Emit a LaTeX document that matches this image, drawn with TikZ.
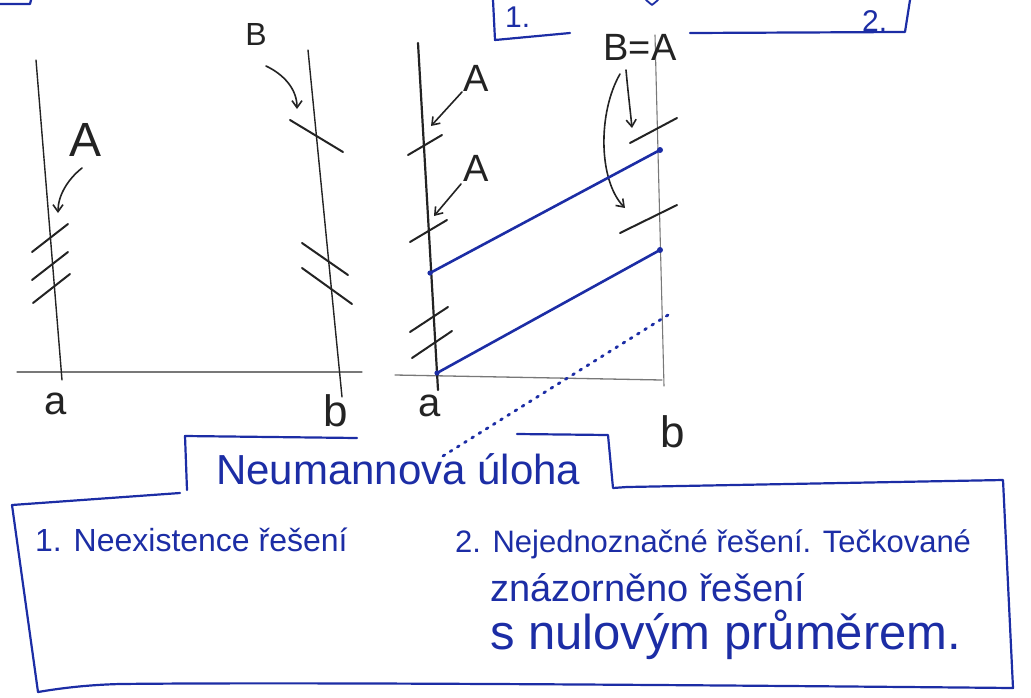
\documentclass[tikz,border=0pt]{standalone}
\usepackage{fontspec}
\setmainfont{Liberation Sans}
\usetikzlibrary{arrows.meta}
\definecolor{ink}{RGB}{35,35,35}
\definecolor{pen}{RGB}{28,45,165}
\definecolor{axisgray}{RGB}{120,120,120}
\begin{document}
\begin{tikzpicture}[x=1pt,y=-1pt,
  axisline/.style={draw=axisgray, line width=1.3pt, line cap=round},
  vline/.style={draw=ink, line width=1.4pt, line cap=round},
  tickline/.style={draw=ink, line width=2pt, line cap=round},
  blueline/.style={draw=pen, line width=2.6pt, line cap=round},
  boxline/.style={draw=pen, line width=2.2pt, line cap=round, line join=round},
  dotline/.style={draw=pen, line width=2.8pt, line cap=round, dash pattern=on 2pt off 6.5pt},
  arr/.style={draw=ink, line width=1.6pt, line cap=round, -{Straight Barb[length=7pt,width=10pt]}},
  lbl/.style={text=ink, inner sep=0pt},
  btxt/.style={text=pen, inner sep=0pt, anchor=base west},
  enddot/.style={fill=pen, draw=none}]
\useasboundingbox (0,0) rectangle (1031,697);

% ---------- top fragments ----------
\draw[boxline] (0,4) -- (30,4) -- (31,0);
\draw[boxline] (493,0) -- (495,40) -- (570,33);
\node[btxt, font=\fontsize{30}{30}\selectfont] (one) at (505,27) {1.};
\draw[boxline] (690,33) -- (905,32) -- (910,0);
\node[btxt, font=\fontsize{30}{30}\selectfont] (two) at (862,31) {2.};
\draw[boxline, line width=1.8pt] (646,0) -- (652,5) -- (658,0);

% ---------- diagram 1 ----------
\coordinate (a1top) at (36,60);
\coordinate (a1bot) at (62,380);
\coordinate (b1top) at (308,50);
\coordinate (b1bot) at (342,397);
\coordinate (ax1l) at (17,372);
\coordinate (ax1r) at (362,372);
\draw[axisline] (ax1l) -- (ax1r);
\draw[vline] (a1top) -- (a1bot);
\draw[vline] (b1top) -- (b1bot);
\node[lbl, font=\fontsize{40}{40}\selectfont] (la1) at (56,404) {a};
\node[lbl, font=\fontsize{44}{44}\selectfont] (lb1) at (336,411) {b};
% ticks on a
\draw[tickline] (32,252) -- (68,224);
\draw[tickline] (32,280) -- (68,252);
\draw[tickline] (33,303) -- (70,274);
% ticks on b
\draw[tickline] (290,120) -- (343,152);
\draw[tickline] (302,243) -- (348,275);
\draw[tickline] (302,268) -- (352,304);
% labels and arrows
\node[lbl, font=\fontsize{48}{48}\selectfont] (A1) at (86,140) {A};
\coordinate (A1s) at (82,168);
\coordinate (A1t) at (58,213);
\draw[arr] (A1s) .. controls (67,180) and (58,196) .. (A1t);
\node[lbl, font=\fontsize{32}{32}\selectfont] (B1) at (256,34) {B};
\coordinate (B1s) at (266,66);
\coordinate (B1t) at (297,109);
\draw[arr] (B1s) .. controls (285,75) and (297,90) .. (B1t);

% ---------- diagram 2 ----------
\coordinate (a2top) at (418,43);
\coordinate (a2bot) at (438,390);
\coordinate (b2top) at (655,35);
\coordinate (b2bot) at (664,386);
\coordinate (ax2l) at (395,375);
\coordinate (ax2r) at (662,380);
\draw[axisline] (ax2l) -- (ax2r);
\draw[axisline, line width=1.1pt] (b2top) -- (b2bot);
\draw[vline, line width=2.2pt] (a2top) -- (a2bot);
\node[lbl, font=\fontsize{40}{40}\selectfont] (la2) at (430,406) {a};
\node[lbl, font=\fontsize{44}{44}\selectfont] (lb2) at (673,432) {b};
% ticks on a
\draw[tickline] (408,155) -- (442,135);
\draw[tickline] (410,242) -- (447,220);
\draw[tickline] (410,332) -- (448,307);
\draw[tickline] (412,358) -- (452,331);
% ticks near b
\draw[tickline] (630,143) -- (677,118);
\draw[tickline] (620,233) -- (677,205);
% A labels
\node[lbl, font=\fontsize{38}{38}\selectfont] (A2) at (476,78) {A};
\coordinate (A2s) at (462,92);
\coordinate (A2t) at (431,126);
\draw[arr] (A2s) -- (A2t);
\node[lbl, font=\fontsize{38}{38}\selectfont] (A3) at (476,168) {A};
\coordinate (A3s) at (461,184);
\coordinate (A3t) at (434,216);
\draw[arr] (A3s) -- (A3t);
% B=A
\node[lbl, font=\fontsize{38}{38}\selectfont] (BA) at (640,47) {B=A};
\coordinate (BAs1) at (626,70);
\coordinate (BAt1) at (632,128);
\draw[arr] (BAs1) .. controls (628,92) and (630,108) .. (BAt1);
\coordinate (BAs2) at (620,74);
\coordinate (BAt2) at (625,208);
\draw[arr] (BAs2) .. controls (598,112) and (598,180) .. (BAt2);
% blue solutions
\coordinate (s1a) at (430,273);
\coordinate (s1b) at (660,150);
\coordinate (s2a) at (437,373);
\coordinate (s2b) at (660,250);
\coordinate (s3a) at (443,456);
\coordinate (s3b) at (668,315);
\draw[blueline] (s1a) -- (s1b);
\draw[blueline] (s2a) -- (s2b);
\fill[enddot] (s1a) circle (2.6pt) (s1b) circle (3pt) (s2a) circle (2.6pt) (s2b) circle (3pt);
\draw[dotline] (s3a) -- (s3b);

% ---------- bottom box ----------
\draw[boxline] (187,490) -- (185,436) -- (357,438);
\draw[boxline] (517,434) -- (608,435) -- (613,488) -- (627,487);
\draw[boxline] (627,487) -- (1003,480) -- (1013,688)
  .. controls (700,685) and (300,682) .. (120,684)
  .. controls (80,685) and (50,690) .. (38,692) -- (12,505) -- (180,493);
\node[btxt, font=\fontsize{42}{42}\selectfont] (title) at (216,484) {Neumannova úloha};
\node[btxt, font=\fontsize{32}{32}\selectfont] (t1) at (35,551) {1. Neexistence řešení};
\node[btxt, font=\fontsize{31}{31}\selectfont] (t2) at (455,552) {2. Nejednoznačné řešení. Tečkované};
\node[btxt, font=\fontsize{38}{38}\selectfont] (t3) at (490,601) {znázorněno řešení};
\node[btxt, font=\fontsize{49}{49}\selectfont] (t4) at (490,649) {s nulovým průměrem.};
\end{tikzpicture}
\end{document}
